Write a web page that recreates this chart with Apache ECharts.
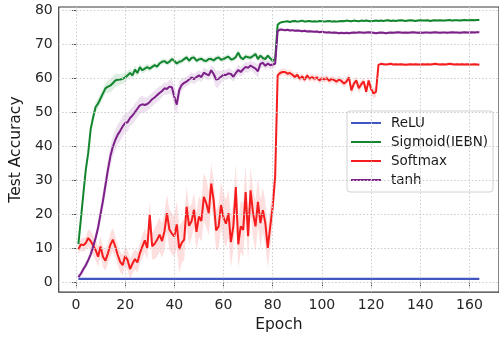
<!DOCTYPE html>
<html>
<head>
<meta charset="utf-8">
<script src="https://cdn.jsdelivr.net/npm/echarts@6/dist/echarts.min.js"></script>
<style>
  html, body { margin: 0; padding: 0; background: #fff; }
  #chart { width: 499px; height: 338px; }
</style>
</head>
<body>
<div id="chart"></div>
<script>
// tick labels
const xTicks = [0, 20, 40, 60, 80, 100, 120, 140, 160];
const yTicks = [0, 10, 20, 30, 40, 50, 60, 70, 80];

// ReLU stays flat for the whole run
const reluEpochs = [1, 164];
const reluAcc = [1.0, 1.0];

// Sigmoid(IEBN), epochs 1..164
const sigmoidAcc = [
  11.2, 18.5, 25.8, 33, 38, 45, 48.5, 51.5, 52.5, 54,
  55.5, 57, 57.5, 57.8, 58.5, 59.3, 59.5, 59.6, 59.8, 60.2,
  60.8, 61.5, 60.8, 62.5, 61.5, 63.2, 62.3, 62.8, 63.2, 62.8,
  63.3, 63.8, 63.4, 64.3, 64.8, 65, 64.4, 64.8, 65.6, 65.1,
  64.3, 64.8, 65, 65.6, 66.1, 65.1, 65.9, 66.1, 65.1, 65.5,
  65.7, 65.2, 65, 65.6, 65.6, 65.2, 65.8, 66.1, 65.4, 65.6,
  66, 66.3, 65.5, 65.6, 66.2, 67.5, 66, 65.6, 66.4, 66.1,
  66, 66.5, 67.1, 65.6, 66.6, 65.9, 65.6, 66.6, 65.8, 65.1,
  65.6, 75.7, 76.3, 76.5, 76.6, 76.7, 76.5, 76.7, 76.8, 76.6,
  76.7, 76.9, 76.6, 76.7, 76.8, 76.6, 76.7, 76.6, 76.8, 76.7,
  76.6, 76.7, 76.8, 76.6, 76.7, 76.6, 76.7, 76.8, 76.7, 76.9,
  76.8, 76.7, 76.9, 76.8, 76.7, 76.9, 76.8, 76.9, 76.8, 76.7,
  76.8, 76.9, 76.8, 76.9, 76.8, 76.9, 77.0, 76.8, 76.9, 76.8,
  76.9, 77.0, 76.9, 76.8, 76.9, 77.0, 76.9, 76.8, 76.9, 77.0,
  76.9, 76.9, 77.0, 76.8, 76.9, 77.0, 76.9, 77.0, 76.9, 76.9,
  77.0, 77.1, 76.9, 77.0, 77.0, 76.9, 77.0, 77.1, 77.0, 77.0,
  77.1, 77.0, 77.1, 77.1
];

const softmaxAcc = [
  9.7, 11.1, 10.9, 11.5, 13, 12.1, 10.8, 9.5, 7.5, 10.5,
  7.5, 6.3, 8.5, 11, 12.5, 10.5, 8, 6, 5, 7.7,
  6.5, 3.9, 5.5, 6.8, 5.8, 8.5, 10.5, 12.3, 10, 19.8,
  10.6, 11.3, 12.5, 14, 12.1, 15, 20.3, 15.5, 14.3, 13.5,
  17, 9.7, 11.6, 12.5, 22.2, 16.6, 17.9, 21.3, 14.8, 19.3,
  18, 25.1, 23.2, 20.3, 29, 24, 15.2, 16.4, 22.7, 19,
  17.2, 20.3, 11.8, 16.5, 28, 11.1, 16.4, 15.4, 26.5, 13.5,
  27, 20.3, 16.4, 23.6, 17.4, 21.2, 17.4, 10.1, 16.4, 22.2,
  31, 60.8, 61.5, 61.8, 61.8, 61.3, 61.5, 61, 60.3, 61,
  59.8, 60.5, 59.5, 60.8, 59.8, 60.3, 59.8, 60.2, 59.3, 60,
  59.6, 60, 59.2, 59.8, 59.4, 59, 59.6, 59.1, 58.4, 59,
  60.2, 56.4, 58.4, 59.3, 57, 58.2, 59, 56, 59.3, 56.8,
  55.5, 56, 63.9, 64.2, 64.1, 64.0, 64.1, 64.2, 64.0, 64.1,
  64.0, 64.1, 64.0, 63.9, 64.0, 64.1, 64.0, 64.1, 64.0, 64.0,
  64.1, 64.0, 64.1, 64.0, 64.1, 64.2, 64.1, 64.0, 64.1, 64.0,
  64.1, 64.2, 64.1, 64.0, 64.1, 64.0, 64.1, 64.0, 64.1, 64.0,
  64.0, 64.1, 64.0, 63.9
];

const tanhAcc = [
  1.5, 2.5, 3.8, 5, 6.5, 8.2, 10.5, 13, 16, 20,
  24, 28.5, 33, 37, 39.8, 41.8, 43.4, 44.5, 45.8, 46.8,
  47, 48.3, 49, 50, 51, 52, 52.3, 52.1, 52.4, 53,
  53.8, 54.3, 55, 55.6, 56.2, 57, 56.8, 57.5, 57.3, 54.5,
  52.2, 56.5, 58, 58.6, 59, 59.6, 60.2, 59.7, 60.3, 60.8,
  60.3, 61.6, 61.2, 60.8, 62.3, 61.2, 59.6, 59.8, 60.4, 61,
  60.9, 61.4, 61.2, 60.4, 61.5, 62.4, 61.8, 62.6, 63.3, 63,
  63.7, 63.2, 62.8, 62, 64.2, 64.5, 63.6, 64.3, 63.8, 64,
  64.2, 73.8, 74.3, 74.2, 74.1, 74.2, 74.0, 74.1, 73.9, 74.0,
  73.9, 73.8, 73.9, 73.7, 73.8, 73.7, 73.6, 73.7, 73.5, 73.6,
  73.5, 73.4, 73.5, 73.3, 73.4, 73.3, 73.2, 73.3, 73.2, 73.3,
  73.2, 73.3, 73.4, 73.3, 73.5, 73.4, 73.3, 73.4, 73.5, 73.4,
  73.3, 73.2, 73.3, 73.4, 73.3, 73.2, 73.3, 73.4, 73.3, 73.4,
  73.5, 73.4, 73.3, 73.4, 73.3, 73.4, 73.5, 73.4, 73.3, 73.4,
  73.3, 73.4, 73.4, 73.3, 73.4, 73.5, 73.4, 73.3, 73.4, 73.4,
  73.3, 73.4, 73.5, 73.4, 73.4, 73.3, 73.4, 73.5, 73.4, 73.4,
  73.5, 73.4, 73.5, 73.5
];

// half-width of the shaded spread around each mean curve
const sigmoidSpread = [
  0.8, 0.8, 0.8, 0.8, 1, 1.2, 1.5, 1.5, 1.5, 1.5,
  1.5, 1.5, 1.8, 2, 2, 2, 1.8, 1.5, 1.5, 1.5,
  1.2, 1.2, 1.2, 1.2, 1, 1, 1, 1, 1, 1,
  0.8, 0.8, 0.8, 0.8, 0.8, 0.8, 0.8, 0.8, 0.8, 0.8,
  0.8, 0.8, 0.8, 0.8, 0.8, 0.8, 0.8, 0.8, 0.8, 0.8,
  0.8, 0.8, 0.8, 0.8, 0.8, 0.8, 0.8, 0.8, 0.8, 0.8,
  0.8, 0.8, 0.8, 0.8, 0.8, 1, 0.8, 0.8, 0.8, 0.8,
  0.8, 0.8, 0.8, 0.8, 0.8, 0.8, 0.8, 0.8, 0.8, 0.8,
  0.8, 0.4, 0.3, 0.3, 0.3, 0.3, 0.3, 0.3, 0.3, 0.3,
  0.3, 0.3, 0.3, 0.3, 0.3, 0.3, 0.3, 0.3, 0.3, 0.3,
  0.3, 0.3, 0.3, 0.3, 0.3, 0.3, 0.3, 0.3, 0.3, 0.3,
  0.3, 0.3, 0.3, 0.3, 0.3, 0.3, 0.3, 0.3, 0.3, 0.3,
  0.3, 0.3, 0.3, 0.3, 0.3, 0.3, 0.3, 0.3, 0.3, 0.3,
  0.3, 0.3, 0.3, 0.3, 0.3, 0.3, 0.3, 0.3, 0.3, 0.3,
  0.3, 0.3, 0.3, 0.3, 0.3, 0.3, 0.3, 0.3, 0.3, 0.3,
  0.3, 0.3, 0.3, 0.3, 0.3, 0.3, 0.3, 0.3, 0.3, 0.3,
  0.3, 0.3, 0.3, 0.3
];

const softmaxSpread = [
  1.5, 1.8, 2, 2, 2.5, 3, 3, 3, 3, 3,
  3, 3, 3, 3.5, 3.5, 3, 3, 3, 3, 3,
  3, 3, 3, 3, 3, 3, 3.5, 3.5, 3.5, 4,
  4, 4.5, 5, 5, 5, 5.5, 5.5, 6, 6, 6,
  7, 7, 6, 6, 6, 5.5, 5, 5, 5.5, 6,
  6, 7, 7, 6.5, 6, 6, 6, 6.5, 7, 7,
  7, 7, 7.5, 7, 7, 7, 7.5, 8, 8, 7,
  7, 7, 7.5, 7, 7, 6.5, 6.5, 6, 6, 5,
  4, 1.2, 1, 1, 1, 1, 1, 1, 1, 1,
  1, 1, 1, 1, 1, 1, 1, 1, 1, 1,
  1, 1, 1, 1, 1, 1, 1, 1, 1.2, 1.2,
  1.2, 1.5, 1.2, 1.2, 1.5, 1.2, 1.2, 1.5, 1.2, 1.5,
  1.5, 1.5, 0.4, 0.4, 0.4, 0.4, 0.4, 0.4, 0.4, 0.4,
  0.4, 0.4, 0.4, 0.4, 0.4, 0.4, 0.4, 0.4, 0.4, 0.4,
  0.4, 0.4, 0.4, 0.4, 0.4, 0.4, 0.4, 0.4, 0.4, 0.4,
  0.4, 0.4, 0.4, 0.4, 0.4, 0.4, 0.4, 0.4, 0.4, 0.4,
  0.4, 0.4, 0.4, 0.4
];

const tanhSpread = [
  0.8, 0.8, 1, 1, 1, 1.2, 1.5, 1.8, 2, 2.5,
  2.8, 3, 3, 3, 3, 3, 3, 3, 3, 2.8,
  2.8, 2.5, 2.5, 2.5, 2.5, 2.5, 2.5, 2.2, 2, 2,
  2, 2, 2, 2, 1.8, 1.8, 1.8, 2, 2.5, 3,
  3, 2.5, 1.8, 1.5, 1.5, 1.5, 1.5, 1.5, 1.5, 1.5,
  1.5, 1.5, 1.5, 1.5, 1.5, 2, 2.5, 2.5, 1.8, 1.5,
  1.5, 1.5, 1.5, 1.5, 1.5, 1.5, 1.5, 1.5, 1.5, 1.5,
  1.5, 1.5, 1.8, 2, 1.5, 1.2, 1.2, 1.2, 1.2, 1.2,
  1, 0.6, 0.5, 0.4, 0.4, 0.4, 0.4, 0.4, 0.4, 0.4,
  0.4, 0.4, 0.4, 0.4, 0.4, 0.4, 0.4, 0.4, 0.4, 0.4,
  0.4, 0.4, 0.4, 0.4, 0.4, 0.4, 0.4, 0.4, 0.4, 0.4,
  0.4, 0.4, 0.4, 0.4, 0.4, 0.4, 0.4, 0.4, 0.4, 0.4,
  0.4, 0.4, 0.4, 0.4, 0.4, 0.4, 0.4, 0.4, 0.4, 0.4,
  0.4, 0.4, 0.4, 0.4, 0.4, 0.4, 0.4, 0.4, 0.4, 0.4,
  0.4, 0.4, 0.4, 0.4, 0.4, 0.4, 0.4, 0.4, 0.4, 0.4,
  0.4, 0.4, 0.4, 0.4, 0.4, 0.4, 0.4, 0.4, 0.4, 0.4,
  0.4, 0.4, 0.4, 0.4
];

const colors = {
  relu: '#4256c2',
  sigmoid: '#12862f',
  softmax: '#f41c1c',
  tanh: '#7c1f88',
};

const font = 'DejaVu Sans';

function pairs(values) {
  return values.map((v, i) => [i + 1, v]);
}

function lineSeries(name, data, color, width) {
  return {
    name: name,
    type: 'line',
    data: data,
    symbol: 'none',
    z: 3,
    lineStyle: { color: color, width: width },
    itemStyle: { color: color },
  };
}

function bandSeries(values, spread, fill) {
  return {
    type: 'custom',
    silent: true,
    z: 2,
    data: [[values.length / 2, values[0]]],
    renderItem: function (params, api) {
      const upper = values.map((v, i) => api.coord([i + 1, v + spread[i]]));
      const lower = values.map((v, i) => api.coord([i + 1, v - spread[i]])).reverse();
      return {
        type: 'polygon',
        shape: { points: upper.concat(lower) },
        style: { fill: fill },
      };
    },
  };
}

const gridStyle = { color: '#cccccc', width: 1, type: [1.5, 2] };

const chart = echarts.init(document.getElementById('chart'), null, { renderer: 'canvas' });

chart.setOption({
  animation: false,
  backgroundColor: '#ffffff',
  grid: {
    left: 56, top: 7, width: 445, height: 290,
    show: true, borderColor: '#3a3a3a', borderWidth: 1.2,
  },
  legend: {
    data: ['ReLU', 'Sigmoid(IEBN)', 'Softmax', 'tanh'],
    orient: 'vertical',
    left: 347,
    top: 111,
    icon: 'rect',
    itemWidth: 30,
    itemHeight: 2,
    itemGap: 5,
    padding: [5, 5, 5, 4],
    backgroundColor: 'rgba(255,255,255,0.85)',
    borderColor: '#d2d2d2',
    borderWidth: 1,
    borderRadius: 3,
    textStyle: { fontFamily: font, fontSize: 13.5, color: '#1a1a1a', padding: [0, 0, 0, 5], lineHeight: 14 },
  },
  xAxis: {
    type: 'value',
    min: -7,
    max: 172,
    name: 'Epoch',
    nameLocation: 'middle',
    nameGap: 24,
    nameTextStyle: { fontFamily: font, fontSize: 15.5, color: '#1a1a1a' },
    axisLine: { show: false },
    axisTick: { show: true, customValues: xTicks, length: 4, lineStyle: { color: '#3a3a3a' } },
    axisLabel: { customValues: xTicks, margin: 6, fontFamily: font, fontSize: 14, color: '#262626' },
    splitLine: { show: false },
  },
  yAxis: {
    type: 'value',
    min: -2.9,
    max: 80.9,
    name: 'Test Accuracy',
    nameLocation: 'middle',
    nameGap: 28,
    nameTextStyle: { fontFamily: font, fontSize: 15.5, color: '#1a1a1a' },
    axisLine: { show: false },
    axisTick: { show: true, customValues: yTicks, length: 4, lineStyle: { color: '#3a3a3a' } },
    axisLabel: { customValues: yTicks, margin: 6, fontFamily: font, fontSize: 14, color: '#262626' },
    splitLine: { show: false },
  },
  series: [
    {
      type: 'line',
      data: [],
      silent: true,
      z: 1,
      markLine: {
        silent: true,
        symbol: 'none',
        label: { show: false },
        lineStyle: gridStyle,
        data: xTicks.map((x) => ({ xAxis: x })).concat(yTicks.map((y) => ({ yAxis: y }))),
      },
    },
    bandSeries(sigmoidAcc, sigmoidSpread, 'rgba(18,134,47,0.14)'),
    bandSeries(softmaxAcc, softmaxSpread, 'rgba(244,28,28,0.14)'),
    bandSeries(tanhAcc, tanhSpread, 'rgba(124,31,136,0.13)'),
    lineSeries('ReLU', reluEpochs.map((e, i) => [e, reluAcc[i]]), colors.relu, 2.4),
    lineSeries('Sigmoid(IEBN)', pairs(sigmoidAcc), colors.sigmoid, 2),
    lineSeries('Softmax', pairs(softmaxAcc), colors.softmax, 2),
    lineSeries('tanh', pairs(tanhAcc), colors.tanh, 2),
  ],
});
</script>
</body>
</html>
